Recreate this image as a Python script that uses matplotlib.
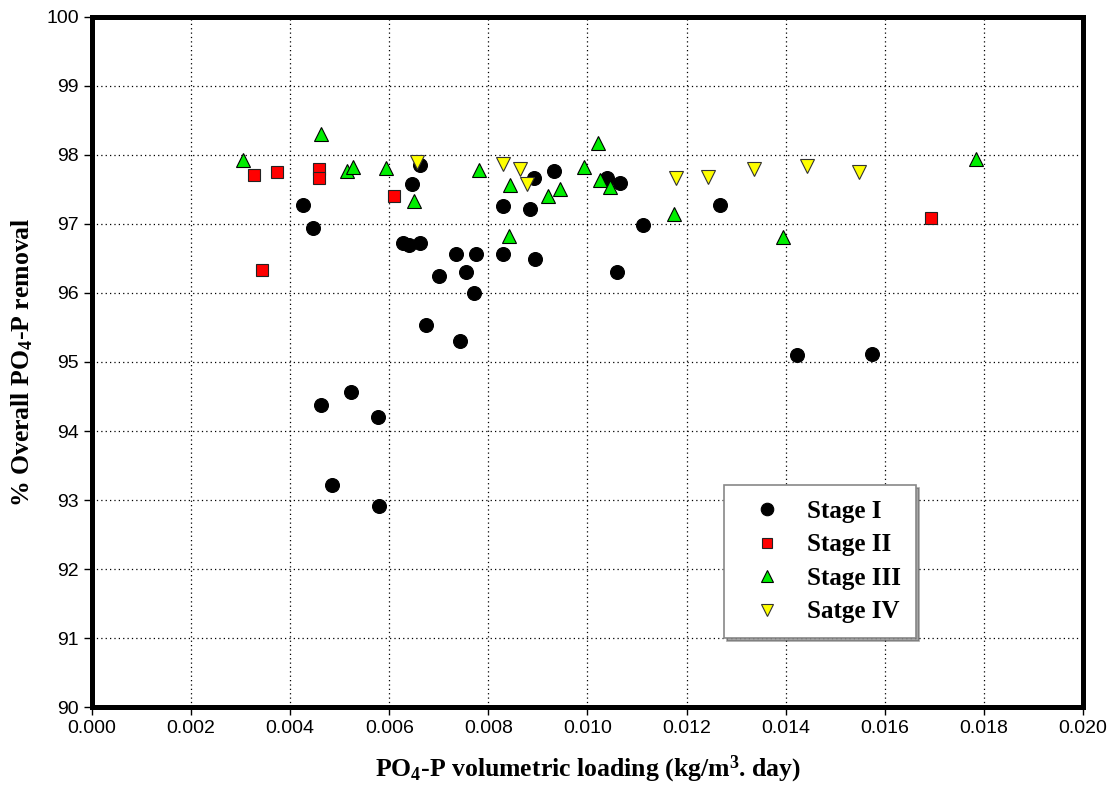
import matplotlib.pyplot as plt

plt.rcParams["font.family"] = "Liberation Sans"
plt.rcParams["mathtext.fontset"] = "custom"
plt.rcParams["mathtext.rm"] = "Liberation Serif:bold"
plt.rcParams["mathtext.it"] = "Liberation Serif:bold"
plt.rcParams["mathtext.bf"] = "Liberation Serif:bold"

# Stage I
s1_x = [0.00425, 0.00446, 0.00463, 0.00485, 0.00523, 0.00578, 0.00580, 0.00627,
        0.00639, 0.00646, 0.00661, 0.00662, 0.00675, 0.00701, 0.00735, 0.00743,
        0.00755, 0.00771, 0.00774, 0.00829, 0.00829, 0.00883, 0.00892, 0.00894,
        0.00932, 0.01039, 0.01059, 0.01065, 0.01112, 0.01267, 0.01423, 0.01574]
s1_y = [97.28, 96.94, 94.38, 93.22, 94.57, 94.21, 92.91, 96.73,
        96.70, 97.58, 96.72, 97.86, 95.54, 96.25, 96.56, 95.30,
        96.30, 96.00, 96.56, 97.26, 96.56, 97.22, 97.67, 96.49,
        97.77, 97.67, 96.30, 97.60, 96.98, 97.27, 95.10, 95.12]

# Stage II
s2_x = [0.00326, 0.00343, 0.00374, 0.00459, 0.00459, 0.00609, 0.01694]
s2_y = [97.71, 96.34, 97.76, 97.79, 97.66, 97.40, 97.08]

# Stage III
s3_x = [0.00304, 0.00463, 0.00515, 0.00526, 0.00593, 0.00649, 0.00782, 0.00841,
        0.00844, 0.00921, 0.00944, 0.00992, 0.01022, 0.01026, 0.01046, 0.01175,
        0.01395, 0.01784]
s3_y = [97.93, 98.31, 97.77, 97.83, 97.81, 97.33, 97.78, 96.83,
        97.57, 97.41, 97.51, 97.83, 98.17, 97.64, 97.53, 97.14,
        96.81, 97.94]

# Stage IV
s4_x = [0.00655, 0.00829, 0.00864, 0.00877, 0.01178, 0.01243, 0.01336, 0.01444, 0.01548]
s4_y = [97.90, 97.87, 97.80, 97.58, 97.66, 97.68, 97.79, 97.84, 97.75]

x_ticks = [0.000, 0.002, 0.004, 0.006, 0.008, 0.010, 0.012, 0.014, 0.016, 0.018, 0.020]
y_ticks = list(range(90, 101))

fig = plt.figure(figsize=(11.13, 7.97), dpi=100)
ax = fig.add_axes([0.0827, 0.1129, 0.8903, 0.8658])

ax.plot(s1_x, s1_y, "o", color="black", markersize=10, mec="black", mew=0.8,
        label="Stage I", zorder=3)
ax.plot(s2_x, s2_y, "s", color="red", markersize=8.5, mec="#222222", mew=0.8,
        label="Stage II", zorder=3)
ax.plot(s3_x, s3_y, "^", color="#00ee00", markersize=10, mec="black", mew=0.8,
        label="Stage III", zorder=3)
ax.plot(s4_x, s4_y, "v", color="yellow", markersize=10, mec="#333333", mew=0.8,
        label="Satge IV", zorder=3)

ax.set_xlim(0, 0.020)
ax.set_ylim(90, 100)
ax.set_xticks(x_ticks)
ax.set_xticklabels([f"{t:.3f}" for t in x_ticks])
ax.set_yticks(y_ticks)
ax.tick_params(labelsize=14, length=6, width=1, direction="out",
               top=False, right=False)
ax.grid(True, color="black", linestyle=(0, (1, 2.5)), linewidth=0.9)
ax.set_axisbelow(True)
for sp in ax.spines.values():
    sp.set_linewidth(3.6)

ax.set_xlabel("PO$_4$-P volumetric loading (kg/m$^3$. day)",
              family="Liberation Serif", weight="bold", fontsize=18.5, labelpad=12)
ax.set_ylabel("% Overall PO$_4$-P removal",
              family="Liberation Serif", weight="bold", fontsize=18.5, labelpad=8)

leg = ax.legend(loc="upper left", bbox_to_anchor=(0.638, 0.322), borderaxespad=0,
                prop={"family": "Liberation Serif", "weight": "bold", "size": 18},
                markerscale=0.9, handletextpad=0.5, labelspacing=0.42,
                borderpad=0.6, handlelength=2.2, fancybox=False, shadow=True,
                framealpha=1, edgecolor="#888888")
leg.get_frame().set_linewidth(1.2)

fig.savefig("out.png", dpi=100)
